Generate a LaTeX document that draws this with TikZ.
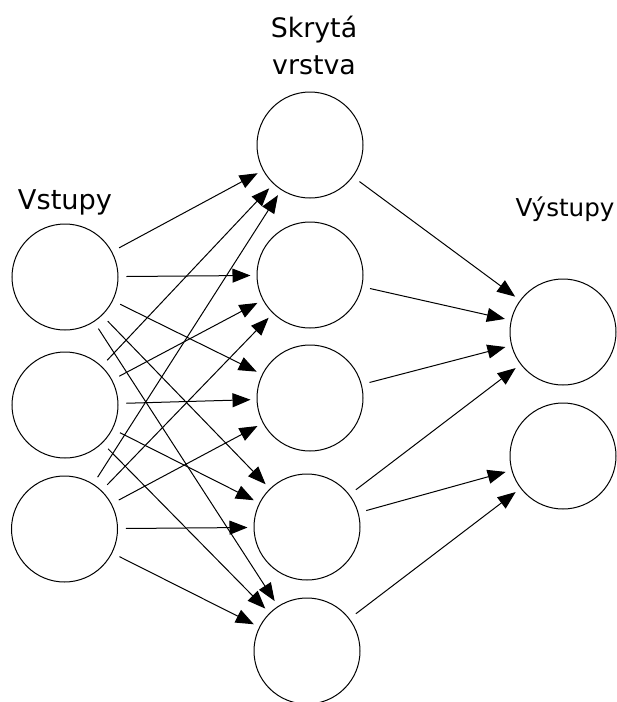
\documentclass[tikz,border=0pt]{standalone}
\usepackage{fontspec}
\setmainfont{DejaVu Sans}
\usetikzlibrary{arrows.meta}
\begin{document}
\begin{tikzpicture}[x=1pt,y=-1pt,
  neuron/.style={circle,draw,line width=1pt,minimum size=106pt,inner sep=0pt},
  lbl/.style={align=center,inner sep=0pt},
  arr/.style={line width=1pt,-{Triangle[length=18pt,width=14pt]},shorten <=8pt,shorten >=6pt}]
\useasboundingbox (0,0) rectangle (617,702);
\node[neuron] (i1) at (65,277) {};
\node[neuron] (i2) at (65,405) {};
\node[neuron] (i3) at (64.5,529) {};
\node[neuron] (h1) at (310,145) {};
\node[neuron] (h2) at (310,275) {};
\node[neuron] (h3) at (310,398) {};
\node[neuron] (h4) at (307,527) {};
\node[neuron] (h5) at (307,651) {};
\node[neuron] (o1) at (563,332) {};
\node[neuron] (o2) at (563,456) {};
\node[lbl,anchor=base,font=\fontsize{27.2}{33}\selectfont] (lin) at (65,209) {Vstupy};
\node[lbl,font=\fontsize{26.8}{37}\selectfont] (lhid) at (314,45) {Skrytá\\vrstva};
\node[lbl,anchor=base,font=\fontsize{24.6}{30}\selectfont] (lout) at (565,216) {Výstupy};
\foreach \i in {i1,i2,i3}{
  \foreach \h in {h1,h2,h3,h4,h5}{
    \draw[arr] (\i) -- (\h);
  }
}
\draw[arr] (h1) -- (o1);
\draw[arr] (h2) -- (o1);
\draw[arr] (h3) -- (o1);
\draw[arr] (h4) -- (o1);
\draw[arr] (h4) -- (o2);
\draw[arr] (h5) -- (o2);
\end{tikzpicture}
\end{document}
